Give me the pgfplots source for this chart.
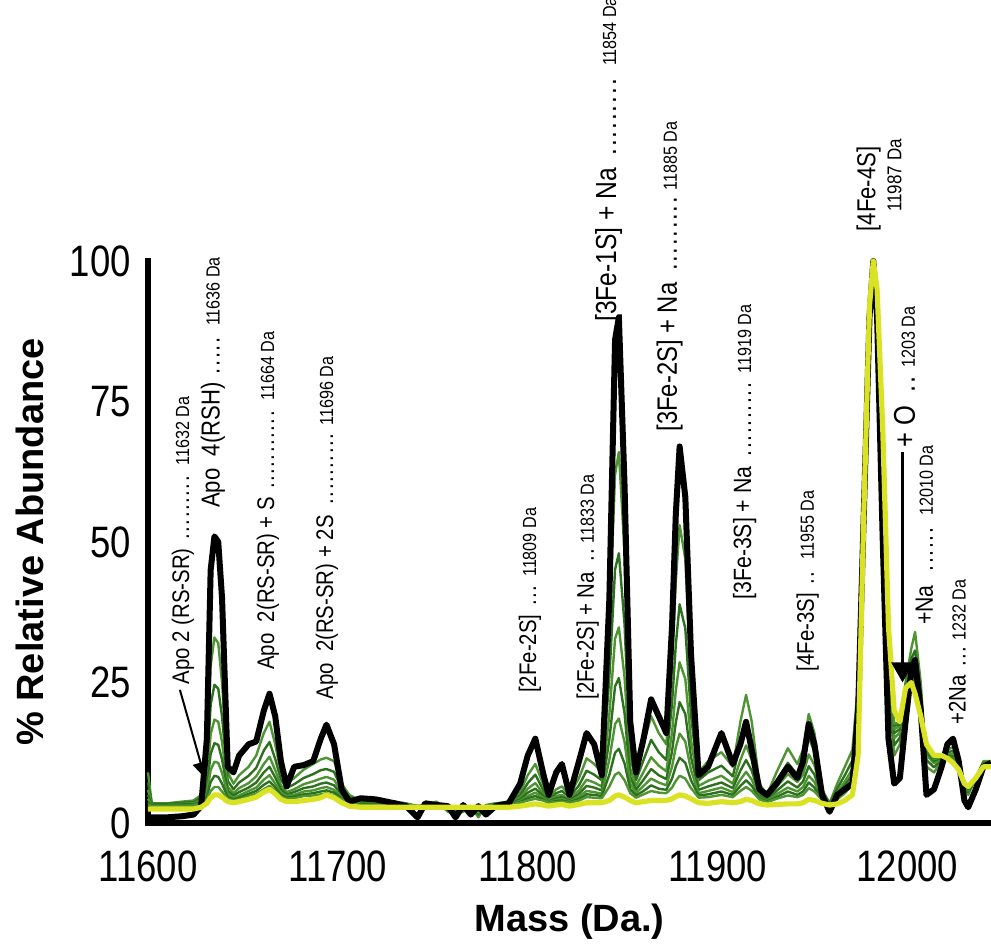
\documentclass[border=0pt]{standalone}
\usepackage{pgfplots}
\pgfplotsset{compat=1.18}
\usepackage{pgfplotstable}
\usetikzlibrary{arrows.meta}
\usepackage{fontspec}
\setmainfont{Liberation Sans}
\newfontfamily\tickfamily{Liberation Sans}[FakeStretch=0.83]
\newfontfamily\annfamily{Liberation Sans}[FakeStretch=0.85]
\definecolor{gA}{RGB}{45,112,30}
\definecolor{gB}{RGB}{78,148,50}
\definecolor{yel}{RGB}{218,226,36}
\newcommand\smallfont{\annfamily\fontsize{9.5}{11}\selectfont}
\newcommand\ann[6]{\node[rotate=90,anchor=west,inner sep=0pt] at (axis cs:#1,#2) {\hbox to #3pt{\annfamily\fontsize{#4}{#4}\selectfont #5\leaders\hbox to 0.3em{\hss.\hss}\hfill}\hspace{2pt}{\smallfont #6}};}
\pgfplotstableread{
x B Y g1 g2 g3 g4 g5 g6 g7
11600 1.0 2.5 9 7.2 5.9 5.0 4.3 3.7 3.3
11602 1.0 2.5 3.5 3.4 3.2 3.2 3.1 3.1 3.0
11610 1.0 2.5 3.5 3.4 3.2 3.2 3.1 3.1 3.0
11618 1.2 2.5 3.8 3.6 3.4 3.3 3.2 3.1 3.0
11624 1.5 2.5 4 3.7 3.5 3.3 3.2 3.1 3.1
11628 3.0 2.8 5 4.5 4.1 3.8 3.6 3.4 3.3
11631 15 3.5 11 8.8 7.3 6.2 5.3 4.7 4.2
11633 45 4.5 28 21 15.8 12.3 9.4 7.3 5.7
11635 51 5.0 33 24.6 18.4 14.2 10.9 8.4 6.4
11637 50 5.0 32 23.9 18 13.9 10.7 8.2 6.4
11639 40 4.6 25 18.9 14.4 11.3 8.9 7.0 5.6
11642 10 3.8 9 7.5 6.4 5.7 5.1 4.6 4.3
11645 9 3.6 7 6.0 5.3 4.9 4.5 4.2 4.0
11648 12 3.8 8.5 7.2 6.2 5.5 4.9 4.5 4.2
11653 14 4.2 10 8.4 7.1 6.3 5.7 5.2 4.8
11657 14.5 4.6 12 9.8 8.3 7.2 6.3 5.7 5.2
11661 20 5.5 16 12.9 10.5 9.0 7.7 6.8 6.0
11664 23 6.0 18 14.4 11.8 10.0 8.5 7.4 6.6
11667 19 5.2 14 11.4 9.4 8.1 7.0 6.3 5.6
11670 11 4.2 9 7.7 6.7 6.0 5.4 5.0 4.7
11673 6.5 3.8 7 6.2 5.5 5.1 4.8 4.5 4.3
11677 10 3.8 8 6.9 6.0 5.5 5.0 4.7 4.4
11682 10.3 4.0 9.5 8.0 6.9 6.2 5.6 5.1 4.8
11687 11 4.2 10.5 8.7 7.4 6.5 5.8 5.3 4.9
11691 15 4.5 11.3 9.4 7.9 7.0 6.2 5.6 5.1
11694 17.5 5.0 11.6 9.6 8.2 7.2 6.4 5.8 5.3
11698 14 4.5 11 9.1 7.7 6.7 5.9 5.4 4.9
11702 6 3.6 7 6.1 5.4 5.0 4.6 4.4 4.2
11706 3.8 3.0 5 4.6 4.2 4.0 3.8 3.7 3.6
11712 4.4 2.8 4 3.8 3.6 3.5 3.4 3.3 3.2
11720 4.2 2.8 3.8 3.6 3.5 3.4 3.3 3.3 3.2
11730 3.5 2.8 3.8 3.6 3.5 3.4 3.3 3.3 3.2
11736 3.0 2.8 3.5 3.4 3.3 3.3 3.3 3.2 3.2
11742 1.0 2.8 3.0 3.0 3.0 3.0 3.0 3.0 3.0
11746 3.5 2.8 3.2 3.1 3.1 3.1 3.0 3.0 3.0
11752 3.2 2.8 3.8 3.6 3.5 3.4 3.3 3.3 3.2
11758 3.0 2.8 2.0 2.3 2.5 2.7 2.8 2.9 3.0
11762 1.0 2.8 1.5 1.9 2.2 2.4 2.5 2.6 2.7
11766 3.2 2.8 2.0 2.2 2.4 2.5 2.6 2.7 2.8
11770 1.5 2.8 3.0 3.0 3.0 3.0 3.0 3.0 3.0
11774 3.0 2.8 1.0 1.5 1.9 2.2 2.4 2.6 2.7
11778 1.5 2.8 3.2 3.1 3.1 3.1 3.0 3.0 3.0
11783 3.0 2.8 3.5 3.4 3.2 3.2 3.1 3.1 3.0
11790 3.5 2.8 3.8 3.6 3.5 3.4 3.3 3.3 3.2
11796 7 3.0 5.5 4.9 4.5 4.2 3.9 3.7 3.6
11800 12 3.2 8.5 7.1 6.1 5.4 4.8 4.4 4.0
11804 15 3.4 10.5 8.6 7.1 6.1 5.4 4.8 4.3
11808 9 3.2 7 6.0 5.3 4.9 4.5 4.2 4.0
11811 5 3.0 4.5 4.2 4.0 3.8 3.7 3.6 3.6
11815 9 3.2 6 5.3 4.8 4.4 4.1 3.9 3.7
11818 10.5 3.3 6.5 5.7 5.0 4.6 4.3 4.0 3.8
11822 5 3.0 5 4.6 4.2 4.0 3.8 3.7 3.6
11827 11 3.3 8 6.7 5.8 5.2 4.7 4.3 4.0
11831 16 3.6 11.5 9.3 7.7 6.6 5.7 5.1 4.6
11835 14 3.6 10.5 8.6 7.2 6.3 5.5 5.0 4.5
11839 8.5 3.6 9 7.6 6.5 5.8 5.2 4.8 4.4
11843 40 4.0 35 26 19.4 14.9 11.3 8.6 6.5
11846 86 4.8 62 45.1 32.8 24.3 17.6 12.5 8.6
11848 90 5.0 66 48 34.8 25.8 18.6 13.2 9
11851 60 4.6 48 35.3 25.9 19.5 14.4 10.6 7.6
11854 18 4.0 15 11.9 9.7 8.2 7.0 6.0 5.3
11857 9 3.6 9 7.6 6.6 5.9 5.3 4.9 4.5
11861 15 3.8 14 11.2 9.1 7.7 6.6 5.7 5.1
11865 22 4.0 19 14.8 11.7 9.6 7.9 6.7 5.7
11869 19 4.0 16 12.6 10.2 8.5 7.2 6.1 5.4
11873 16 4.0 14 11.2 9.2 7.8 6.7 5.9 5.3
11876 35 4.3 28 21.2 16.1 12.7 10 7.9 6.3
11878 55 4.7 43 31.8 23.6 17.9 13.5 10.1 7.5
11880 67 5.0 53 38.9 28.6 21.5 15.9 11.6 8.4
11883 58 4.8 47 34.6 25.6 19.4 14.5 10.7 7.9
11886 30 4.3 25 19.1 14.7 11.7 9.4 7.6 6.2
11890 8.5 3.6 9 7.6 6.6 5.9 5.3 4.9 4.5
11895 10 3.5 11 9.0 7.5 6.5 5.7 5.1 4.6
11902 16 3.8 12.6 10.2 8.4 7.2 6.3 5.6 5.0
11908 10.5 3.6 10 8.3 7.0 6.2 5.5 5.0 4.6
11912 14 3.8 18 14.1 11.2 9.3 7.7 6.6 5.7
11915 18 4.2 22.8 17.6 13.8 11.2 9.1 7.6 6.4
11918 13 4.0 18 14.1 11.2 9.3 7.7 6.6 5.7
11922 6 3.4 7 6.1 5.4 5.0 4.6 4.4 4.2
11926 5 3.2 5 4.6 4.3 4.1 3.9 3.8 3.7
11931 7 3.3 9 7.5 6.4 5.7 5.1 4.6 4.3
11937 10 3.4 13.3 10.7 8.7 7.4 6.3 5.6 4.9
11942 8 3.4 10.5 8.6 7.3 6.3 5.6 5.0 4.6
11945 11 3.6 13 10.5 8.6 7.4 6.4 5.6 5.0
11948 17.6 4.2 19.4 15.2 12.2 10.1 8.4 7.2 6.2
11951 14 4.0 16 12.7 10.3 8.6 7.3 6.3 5.6
11955 5 3.5 6 5.4 5.0 4.7 4.4 4.2 4.1
11959 2 3.2 3.5 3.5 3.5 3.5 3.5 3.5 3.5
11963 5 3.4 7 6.1 5.4 5.0 4.6 4.4 4.2
11967 6 4.0 10 8.5 7.4 6.7 6.1 5.6 5.3
11971 7 5.0 13 11.1 9.6 8.6 7.9 7.3 6.8
11974 20 12 25 22 19.8 18.3 17.1 16.2 15.5
11977 55 55 60 59.4 59 58.7 58.4 58.2 58.1
11980 90 92 93 93 93 93 93 93 93
11982 100 100 100 100 100 100 100 100 100
11984 90 95 94 94.3 94.5 94.7 94.8 94.9 95.0
11987 50 70 60 61.5 62.6 63.4 64 64.4 64.8
11990 15 35 25 27.1 28.6 29.7 30.5 31.2 31.7
11993 7 20 12 13.8 15.1 16.0 16.7 17.3 17.7
11996 8 18 14 15.2 16.1 16.7 17.2 17.5 17.8
11999 18 24 25 24.7 24.5 24.3 24.2 24.1 24.1
12002 27 25 31 29.2 27.9 27 26.3 25.7 25.3
12004 29 23 34 30.7 28.3 26.6 25.3 24.3 23.6
12007 20 19 25 23.2 21.9 21 20.3 19.7 19.3
12010 5 14 10 11.2 12.1 12.7 13.2 13.5 13.8
12014 6 12 9 9.9 10.6 11.0 11.4 11.6 11.9
12018 10 12 11 11.3 11.5 11.7 11.8 11.9 12
12021 14 11.5 13 12.6 12.2 12 11.8 11.7 11.6
12024 15 10.7 13.5 12.8 12.2 11.8 11.5 11.3 11.1
12027 11 9.5 11 10.6 10.2 10 9.8 9.7 9.6
12030 4 7 6 6.3 6.5 6.7 6.8 6.9 7.0
12032 2.8 6.5 5 5.5 5.8 6.0 6.2 6.3 6.4
12036 6 8 8 8 8 8 8 8 8
12040 10 10 11 10.7 10.5 10.3 10.2 10.1 10.1
12044 10.7 10 11 10.7 10.5 10.3 10.2 10.1 10.1
}\spec
\begin{document}
\begin{tikzpicture}
\begin{axis}[
  at={(74pt,61pt)}, anchor=south west,
  scale only axis, width=421.5pt, height=281pt,
  xmin=11600, xmax=12044, ymin=0, ymax=100,
  enlargelimits=false, clip=false,
  scaled ticks=false,
  axis lines=left,
  axis line style={-, line width=3pt, line cap=rect},
  tick style={draw=none},
  xtick={11600,11700,11800,11900,12000},
  xticklabels={11600,11700,11800,11900,12000},
  ytick={0,25,50,75,100},
  yticklabels={0,25,50,75,100},
  tick label style={font=\tickfamily\fontsize{22}{24}\selectfont},
  xticklabel style={yshift=-8pt},
  yticklabel style={xshift=-3pt},
  label style={font=\bfseries\fontsize{19}{22}\selectfont},
  xlabel={Mass (Da.)},
  ylabel={\% Relative Abundance},
  xlabel style={at={(axis description cs:0.5,-0.176)}, anchor=center},
  ylabel style={at={(axis description cs:-0.14,0.5)}, anchor=center},
  every axis plot/.append style={line join=round},
]
\addplot[gB, line width=1.2pt] table[x=x,y=g1] {\spec};
\addplot[gA, line width=1.2pt] table[x=x,y=g2] {\spec};
\addplot[gB, line width=1.2pt] table[x=x,y=g3] {\spec};
\addplot[gA, line width=1.2pt] table[x=x,y=g4] {\spec};
\addplot[gB, line width=1.2pt] table[x=x,y=g5] {\spec};
\addplot[gA, line width=1.2pt] table[x=x,y=g6] {\spec};
\addplot[gB, line width=1.2pt] table[x=x,y=g7] {\spec};
\addplot[black, line width=3pt] table[x=x,y=B] {\spec};
\addplot[yel, line width=2.6pt] table[x=x,y=Y] {\spec};
\ann{11618.4}{24.6}{107.5}{12}{Apo 2 (RS-SR) }{11632 Da}
\ann{11634.2}{56.0}{89}{13}{Apo\ \ 4(RSH) }{11636 Da}
\ann{11663.2}{27.2}{132.5}{12}{Apo\ \ 2(RS-SR) + S }{11664 Da}
\ann{11694.2}{21.9}{135}{12}{Apo\ \ 2(RS-SR) + 2S }{11696 Da}
\ann{11801.1}{23.1}{56}{12}{[2Fe-2S] }{11809 Da}
\ann{11831.6}{21.9}{76}{12}{[2Fe-2S] + Na }{11833 Da}
\ann{11842.6}{89.1}{126}{14.5}{[3Fe-1S] + Na }{11854 Da}
\ann{11874.7}{69.6}{118.5}{14}{[3Fe-2S] + Na }{11885 Da}
\ann{11914.2}{39.7}{111}{12.5}{[3Fe-3S] + Na }{11919 Da}
\ann{11947.4}{26.9}{54}{12}{[4Fe-3S] }{11955 Da}
\node[rotate=90,anchor=west,inner sep=0pt] at (axis cs:11979.5,105.2) {\annfamily\fontsize{13}{15}\selectfont [4Fe-4S]};
\node[rotate=90,anchor=west,inner sep=0pt] at (axis cs:11993.2,108.7) {\annfamily\fontsize{10}{12}\selectfont 11987 Da};
\ann{11998.4}{66.7}{38}{15}{+ O }{1203 Da}
\ann{12008.9}{35.2}{52.5}{12.5}{+Na }{12010 Da}
\ann{12026.3}{17.4}{40}{12}{+2Na }{1232 Da}
\draw[line width=1pt, -{Triangle[length=8pt,width=8pt]}] (axis cs:11616.8,23.7) -- (axis cs:11630,8);
\draw[line width=1.3pt, -{Triangle[length=10pt,width=11pt]}] (axis cs:11997.4,66) -- (axis cs:11997.4,25);
\end{axis}
\pgfresetboundingbox
\path[use as bounding box] (0,0) rectangle (495.5pt,472.5pt);
\end{tikzpicture}
\end{document}
